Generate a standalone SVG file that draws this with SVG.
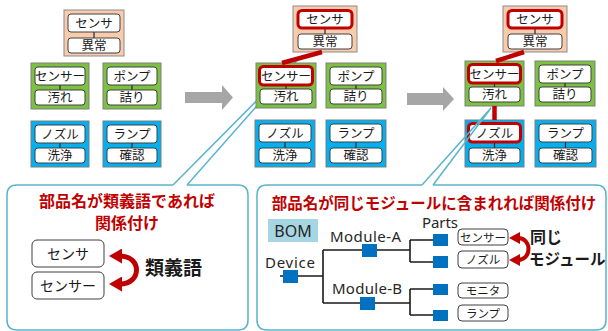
<svg xmlns="http://www.w3.org/2000/svg" width="608" height="331" viewBox="0 0 608 331">
  <defs>
    <style>
      .jp { font-family: "Noto Sans CJK JP", "Noto Sans", sans-serif; }
      .lat { font-family: "Noto Sans", "Liberation Sans", sans-serif; }
      .peach { fill: #f8cbad; stroke: #8c8c8c; stroke-width: 1; }
      .green { fill: #7dc142; stroke: #7f7f7f; stroke-width: 1; }
      .blue { fill: #00b0f0; stroke: #7f7f7f; stroke-width: 1; }
      .cell { fill: #ffffff; stroke: #404040; stroke-width: 1; }
      .hl { fill: #ffffff; stroke: #c00000; stroke-width: 3; }
      .tick { stroke: #262626; stroke-width: 1.2; }
      .cell-t { font-size: 12.5px; fill: #1a1a1a; text-anchor: middle; }
      .callout { fill: #ffffff; stroke: #5ab4cc; stroke-width: 1.5; }
      .ptr { fill: none; stroke: #5ab4cc; stroke-width: 1.5; }
      .step { fill: #a6a6a6; }
      .link { stroke: #c00000; stroke-width: 4.5; fill: none; }
      .title { font-weight: 700; fill: #c00000; text-anchor: middle; }
      .swap { fill: none; stroke: #c00000; }
      .tree { fill: none; stroke: #1a1a1a; stroke-width: 1.6; }
      .sq { fill: #0070c0; }
      .part { fill: #ffffff; stroke: #404040; stroke-width: 1; }
      .part-t { font-size: 11.5px; fill: #1a1a1a; text-anchor: middle; }
      .lbl { font-size: 15px; fill: #262626; }
    </style>
    <marker id="head" markerUnits="userSpaceOnUse" markerWidth="13" markerHeight="15" viewBox="0 0 13 15" refX="2" refY="7.5" orient="auto-start-reverse">
      <path d="M0,0 L13,7.5 L0,15 Z" fill="#c00000"/>
    </marker>
    <marker id="head-s" markerUnits="userSpaceOnUse" markerWidth="11" markerHeight="12" viewBox="0 0 11 12" refX="2" refY="6" orient="auto-start-reverse">
      <path d="M0,0 L11,6 L0,12 Z" fill="#c00000"/>
    </marker>
  </defs>

  <rect width="608" height="331" fill="#ffffff"/>

  <!-- callout frames (drawn first so the boxes sit on top of the pointers) -->
  <g id="callout-synonym">
    <path class="callout" d="M187,185 H238 Q248,185 248,195 V320 Q248,330 238,330 H17 Q7,330 7,320 V195 Q7,185 17,185 H173"/>
    <polyline class="ptr" points="173,185 300,57 187,185"/>
  </g>
  <g id="callout-module">
    <path class="callout" d="M433,185 H596 Q606,185 606,195 V320 Q606,330 596,330 H267 Q257,330 257,320 V195 Q257,185 267,185 H422"/>
  </g>

  <!-- step 1 -->
  <g id="s1-sensor" transform="translate(64,10)">
    <rect class="peach" width="60" height="46"/>
    <line class="tick" x1="30" y1="22" x2="30" y2="28"/>
    <rect class="cell" x="4" y="4" width="52" height="18" rx="3"/>
    <rect class="cell" x="4" y="28" width="52" height="15" rx="3"/>
    <text class="jp cell-t" x="30" y="17.5">センサ</text>
    <text class="jp cell-t" x="30" y="40">異常</text>
  </g>
  <g id="s1-sensor2" transform="translate(31,63)">
    <rect class="green" width="58" height="46"/>
    <line class="tick" x1="29" y1="22" x2="29" y2="27"/>
    <rect class="cell" x="4" y="4" width="50" height="18" rx="3"/>
    <rect class="cell" x="4" y="27" width="50" height="15" rx="3"/>
    <text class="jp cell-t" x="29" y="17.5">センサー</text>
    <text class="jp cell-t" x="29" y="39">汚れ</text>
  </g>
  <g id="s1-pump" transform="translate(103,63)">
    <rect class="green" width="58" height="46"/>
    <line class="tick" x1="29" y1="22" x2="29" y2="27"/>
    <rect class="cell" x="4" y="4" width="50" height="18" rx="3"/>
    <rect class="cell" x="4" y="27" width="50" height="15" rx="3"/>
    <text class="jp cell-t" x="29" y="17.5">ポンプ</text>
    <text class="jp cell-t" x="29" y="39">詰り</text>
  </g>
  <g id="s1-nozzle" transform="translate(31,121)">
    <rect class="blue" width="58" height="46"/>
    <line class="tick" x1="29" y1="22" x2="29" y2="27"/>
    <rect class="cell" x="4" y="4" width="50" height="18" rx="3"/>
    <rect class="cell" x="4" y="27" width="50" height="15" rx="3"/>
    <text class="jp cell-t" x="29" y="17.5">ノズル</text>
    <text class="jp cell-t" x="29" y="39">洗浄</text>
  </g>
  <g id="s1-lamp" transform="translate(103,121)">
    <rect class="blue" width="58" height="46"/>
    <line class="tick" x1="29" y1="22" x2="29" y2="27"/>
    <rect class="cell" x="4" y="4" width="50" height="18" rx="3"/>
    <rect class="cell" x="4" y="27" width="50" height="15" rx="3"/>
    <text class="jp cell-t" x="29" y="17.5">ランプ</text>
    <text class="jp cell-t" x="29" y="39">確認</text>
  </g>

  <!-- step 2 -->
  <g id="s2-sensor" transform="translate(293,6)">
    <rect class="peach" width="64" height="46"/>
    <line class="tick" x1="32" y1="22" x2="32" y2="28"/>
    <rect class="hl" x="5" y="4.5" width="54" height="17.5" rx="4"/>
    <rect class="cell" x="5" y="28" width="54" height="15" rx="3"/>
    <text class="jp cell-t" x="32" y="17.5">センサ</text>
    <text class="jp cell-t" x="32" y="40">異常</text>
  </g>
  <g id="s2-sensor2" transform="translate(256,63)">
    <rect class="green" width="60" height="45"/>
    <line class="tick" x1="30" y1="22" x2="30" y2="26"/>
    <rect class="hl" x="3.5" y="3.5" width="53" height="18.5" rx="4"/>
    <rect class="cell" x="4" y="26" width="52" height="15" rx="3"/>
    <text class="jp cell-t" x="30" y="17.5">センサー</text>
    <text class="jp cell-t" x="30" y="38">汚れ</text>
  </g>
  <g id="s2-pump" transform="translate(326,63)">
    <rect class="green" width="60" height="45"/>
    <line class="tick" x1="30" y1="22" x2="30" y2="26"/>
    <rect class="cell" x="4" y="4" width="52" height="18" rx="3"/>
    <rect class="cell" x="4" y="26" width="52" height="15" rx="3"/>
    <text class="jp cell-t" x="30" y="17.5">ポンプ</text>
    <text class="jp cell-t" x="30" y="38">詰り</text>
  </g>
  <g id="s2-nozzle" transform="translate(255,120)">
    <rect class="blue" width="60" height="47"/>
    <line class="tick" x1="30" y1="22" x2="30" y2="28"/>
    <rect class="cell" x="4" y="4" width="52" height="18" rx="3"/>
    <rect class="cell" x="4" y="28" width="52" height="15" rx="3"/>
    <text class="jp cell-t" x="30" y="17.5">ノズル</text>
    <text class="jp cell-t" x="30" y="40">洗浄</text>
  </g>
  <g id="s2-lamp" transform="translate(326,120)">
    <rect class="blue" width="60" height="47"/>
    <line class="tick" x1="30" y1="22" x2="30" y2="28"/>
    <rect class="cell" x="4" y="4" width="52" height="18" rx="3"/>
    <rect class="cell" x="4" y="28" width="52" height="15" rx="3"/>
    <text class="jp cell-t" x="30" y="17.5">ランプ</text>
    <text class="jp cell-t" x="30" y="40">確認</text>
  </g>

  <!-- step 3 -->
  <g id="s3-sensor" transform="translate(503,6)">
    <rect class="peach" width="64" height="46"/>
    <line class="tick" x1="32" y1="22" x2="32" y2="28"/>
    <rect class="hl" x="5" y="4.5" width="54" height="17.5" rx="4"/>
    <rect class="cell" x="5" y="28" width="54" height="15" rx="3"/>
    <text class="jp cell-t" x="32" y="17.5">センサ</text>
    <text class="jp cell-t" x="32" y="40">異常</text>
  </g>
  <g id="s3-sensor2" transform="translate(465,61)">
    <rect class="green" width="59" height="45"/>
    <line class="tick" x1="29.5" y1="22" x2="29.5" y2="26"/>
    <rect class="hl" x="3.5" y="3.5" width="52" height="18.5" rx="4"/>
    <rect class="cell" x="4" y="26" width="51" height="15" rx="3"/>
    <text class="jp cell-t" x="29.5" y="17.5">センサー</text>
    <text class="jp cell-t" x="29.5" y="38">汚れ</text>
  </g>
  <g id="s3-pump" transform="translate(535,61)">
    <rect class="green" width="60" height="45"/>
    <line class="tick" x1="30" y1="22" x2="30" y2="26"/>
    <rect class="cell" x="4" y="4" width="52" height="18" rx="3"/>
    <rect class="cell" x="4" y="26" width="52" height="15" rx="3"/>
    <text class="jp cell-t" x="30" y="17.5">ポンプ</text>
    <text class="jp cell-t" x="30" y="38">詰り</text>
  </g>
  <g id="s3-nozzle" transform="translate(465,120)">
    <rect class="blue" width="59" height="47"/>
    <line class="tick" x1="29.5" y1="22" x2="29.5" y2="28"/>
    <rect class="hl" x="3.5" y="3.5" width="52" height="18.5" rx="4"/>
    <rect class="cell" x="4" y="28" width="51" height="15" rx="3"/>
    <text class="jp cell-t" x="29.5" y="17.5">ノズル</text>
    <text class="jp cell-t" x="29.5" y="40">洗浄</text>
  </g>
  <g id="s3-lamp" transform="translate(535,120)">
    <rect class="blue" width="61" height="47"/>
    <line class="tick" x1="30.5" y1="22" x2="30.5" y2="28"/>
    <rect class="cell" x="4" y="4" width="53" height="18" rx="3"/>
    <rect class="cell" x="4" y="28" width="53" height="15" rx="3"/>
    <text class="jp cell-t" x="30.5" y="17.5">ランプ</text>
    <text class="jp cell-t" x="30.5" y="40">確認</text>
  </g>

  <!-- connectors: pointer of the module callout, step arrows, relation links -->
  <g id="connectors">
    <polyline class="ptr" points="422,185 491,108 433,185"/>
    <polygon class="step" points="185,92 222,92 222,85 233,97.5 222,110 222,103 185,103"/>
    <polygon class="step" points="407,93 443,93 443,87 454,99 443,111 443,105 407,105"/>
    <line class="link" x1="322" y1="52" x2="282" y2="63"/>
    <line class="link" x1="524" y1="52" x2="496" y2="61"/>
    <line class="link" x1="494.5" y1="106" x2="494.5" y2="120"/>
  </g>

  <!-- synonym rule -->
  <g id="synonym-rule">
    <text class="jp title" x="127" y="206.5" font-size="16">部品名が類義語であれば</text>
    <text class="jp title" x="127" y="228.5" font-size="16">関係付け</text>
    <rect class="cell" x="32" y="240" width="72" height="27" rx="5"/>
    <rect class="cell" x="32" y="272" width="72" height="27" rx="5"/>
    <text class="jp" x="68" y="259" font-size="14" text-anchor="middle" fill="#1a1a1a">センサ</text>
    <text class="jp" x="68" y="291" font-size="14" text-anchor="middle" fill="#1a1a1a">センサー</text>
    <path class="swap" stroke-width="5" d="M120,256 C142,256 142,284 120,284" marker-start="url(#head)" marker-end="url(#head)"/>
    <text class="jp" x="145" y="275" font-size="19" font-weight="700" fill="#1a1a1a">類義語</text>
  </g>

  <!-- module rule -->
  <g id="module-rule">
    <text class="jp title" x="434" y="209" font-size="15.5">部品名が同じモジュールに含まれれば関係付け</text>
    <rect x="268" y="219" width="50" height="23" fill="#a6d6e4"/>
    <text class="lat" x="293" y="236.5" font-size="16" text-anchor="middle" fill="#262626">BOM</text>
    <text class="lat lbl" x="422" y="228" textLength="36">Parts</text>
    <text class="lat lbl" x="330" y="242" textLength="71">Module-A</text>
    <text class="lat lbl" x="265" y="268" textLength="50">Device</text>
    <text class="lat lbl" x="332" y="294" textLength="70">Module-B</text>
  </g>

  <g id="bom-tree">
    <path class="tree" d="M280,276 H323 M323,250 V303 M323,250 H410 M323,303 H410 M410,240 V262 M410,240 H440 M410,262 H440 M410,289 V315 M410,289 H440 M410,315 H440"/>
    <rect class="sq" x="283" y="270" width="15" height="13"/>
    <rect class="sq" x="362" y="244" width="15" height="13"/>
    <rect class="sq" x="360" y="297" width="15" height="13"/>
    <rect class="sq" x="433" y="234" width="15" height="12"/>
    <rect class="sq" x="433" y="256" width="15" height="12"/>
    <rect class="sq" x="433" y="284" width="15" height="11"/>
    <rect class="sq" x="433" y="310" width="15" height="11"/>
  </g>

  <g id="part-sensor">
    <rect class="part" x="458" y="229" width="50" height="16" rx="4"/>
    <text class="jp part-t" x="483" y="241.5">センサー</text>
  </g>
  <g id="part-nozzle">
    <rect class="part" x="458" y="251" width="50" height="17" rx="4"/>
    <text class="jp part-t" x="483" y="264">ノズル</text>
  </g>
  <g id="part-monitor">
    <rect class="part" x="458" y="283" width="50" height="15" rx="4"/>
    <text class="jp part-t" x="483" y="295">モニタ</text>
  </g>
  <g id="part-lamp">
    <rect class="part" x="458" y="305" width="50" height="16" rx="4"/>
    <text class="jp part-t" x="483" y="317.5">ランプ</text>
  </g>

  <g id="same-module">
    <path class="swap" stroke-width="4" d="M518,238 C532,238 532,260 518,260" marker-start="url(#head-s)" marker-end="url(#head-s)"/>
    <text class="jp" x="530" y="243" font-size="16" font-weight="700" fill="#1a1a1a">同じ</text>
    <text class="jp" x="529" y="265" font-size="15.5" font-weight="700" fill="#1a1a1a">モジュール</text>
  </g>
</svg>
